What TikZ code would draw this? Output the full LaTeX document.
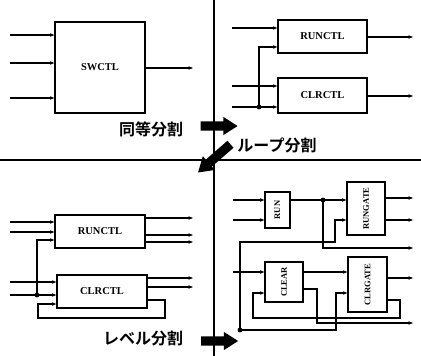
\documentclass[tikz,border=0pt]{standalone}
\usepackage{fontspec}
\usepackage{graphicx}
\newfontfamily\jpfont[BoldFont={Noto Sans CJK JP Bold}]{Noto Sans CJK JP}
\newfontfamily\boxfont{Liberation Serif}
\usetikzlibrary{shapes.arrows,arrows.meta}
\begin{document}
\begin{tikzpicture}[x=1pt,y=-1pt,line width=1.25pt,
  blk/.style={draw,line width=1.3pt,inner sep=0pt,font=\boxfont\bfseries\fontsize{10.5}{10.5}\selectfont},
  vblk/.style={blk,font=\boxfont\bfseries\fontsize{8.5}{8.5}\selectfont},
  wire/.style={-{Stealth[length=4.5pt,width=3.5pt]}},
  dot/.style={circle,fill,inner sep=1.7pt},
  bigarrow/.style={single arrow,fill=black,inner xsep=0pt,inner ysep=4pt,minimum height=37pt,single arrow head extend=4.5pt,single arrow tip angle=65},
  jp/.style={font=\jpfont\bfseries\fontsize{16}{16}\selectfont}]
\useasboundingbox (0,0) rectangle (421,356);
% dividers
\coordinate (vt) at (214,0);
\coordinate (vb) at (214,356);
\coordinate (hl) at (0,160);
\coordinate (hr) at (421,160);
\draw[line width=1.6pt] (vt) -- (vb);
\draw[line width=1.6pt] (hl) -- (hr);
% before
\node[blk,minimum width=90pt,minimum height=91pt] (sw) at (100,67.5) {SWCTL};
\foreach \y [count=\i] in {35,63,98} {
  \coordinate (swi\i) at (10,\y);
  \draw[wire] (swi\i) -- (swi\i -| sw.west);
}
\coordinate (swo) at (193,68);
\draw[wire] (swo -| sw.east) -- (swo);
% same-level split
\node[blk,minimum width=89pt,minimum height=33pt] (ra) at (322.5,36.5) {RUNCTL};
\node[blk,minimum width=89pt,minimum height=35pt] (ca) at (322.5,95.5) {CLRCTL};
\foreach \y [count=\i] in {28,86,107} {\coordinate (ai\i) at (232,\y);}
\draw[wire] (ai1) -- (ai1 -| ra.west);
\draw[wire] (ai2) -- (ai2 -| ca.west);
\draw[wire] (ai3) -- (ai3 -| ca.west);
\node[dot] (ad) at (259,107) {};
\coordinate (ab) at (259,47);
\draw[wire] (ad.center) -- (ab) -- (ab -| ra.west);
\coordinate (ao1) at (413,37);
\coordinate (ao2) at (413,96);
\draw[wire] (ao1 -| ra.east) -- (ao1);
\draw[wire] (ao2 -| ca.east) -- (ao2);
% loop split
\node[blk,minimum width=90pt,minimum height=33pt] (rb) at (100,231.5) {RUNCTL};
\node[blk,minimum width=90pt,minimum height=33pt] (cb) at (102,291.5) {CLRCTL};
\foreach \y [count=\i] in {222,232,282,295} {\coordinate (bi\i) at (10,\y);}
\draw[wire] (bi1) -- (bi1 -| rb.west);
\draw[wire] (bi2) -- (bi2 -| rb.west);
\draw[wire] (bi3) -- (bi3 -| cb.west);
\draw[wire] (bi4) -- (bi4 -| cb.west);
\node[dot] (bd) at (37,295) {};
\coordinate (bb) at (37,240);
\draw[wire] (bd.center) -- (bb) -- (bb -| rb.west);
\foreach \y [count=\i] in {218,235,242} {
  \coordinate (bo\i) at (193,\y);
  \draw[wire] (bo\i -| rb.east) -- (bo\i);
}
\foreach \y [count=\i] in {278,287} {
  \coordinate (bq\i) at (193,\y);
  \draw[wire] (bq\i -| cb.east) -- (bq\i);
}
\coordinate (bl1) at (165,300);
\coordinate (bl2) at (38,318);
\coordinate (bl3) at (38,304);
\draw[wire] (bl1 -| cb.east) -- (bl1) |- (bl2) -- (bl3) -- (bl3 -| cb.west);
% level split
\node[vblk,minimum width=25pt,minimum height=36pt] (run) at (277.5,210) {\rotatebox{90}{RUN}};
\node[vblk,minimum width=38pt,minimum height=53pt] (rg) at (366,208.5) {\rotatebox{90}{RUNGATE}};
\node[vblk,minimum width=38pt,minimum height=40pt] (clr) at (284,282) {\rotatebox{90}{CLEAR}};
\node[vblk,minimum width=39pt,minimum height=55pt] (cg) at (367.5,284.5) {\rotatebox{90}{CLRGATE}};
\coordinate (ri1) at (233,200);
\coordinate (ri2) at (233,220);
\draw[wire] (ri1) -- (ri1 -| run.west);
\draw[wire] (ri2) -- (ri2 -| run.west);
\node[dot] (rd) at (323,200) {};
\draw[wire] (rd -| run.east) -- (rd -| rg.west);
\coordinate (ro1) at (413,198);
\coordinate (ro2) at (413,220);
\coordinate (ro3) at (413,248);
\draw[wire] (ro1 -| rg.east) -- (ro1);
\draw[wire] (ro2 -| rg.east) -- (ro2);
\draw[wire] (rd.center) |- (ro3);
\node[dot] (ld) at (240,330) {};
\coordinate (lk1) at (335,242);
\draw[wire] (ld.center) |- (lk1) -- (lk1 |- ri2) -- (ri2 -| rg.west);
\coordinate (ci1) at (233,272);
\draw[wire] (ci1) -- (ci1 -| clr.west);
\draw[wire] (ci1 -| clr.east) -- (ci1 -| cg.west);
\coordinate (ck) at (317,289);
\coordinate (co) at (413,323);
\draw[wire] (ck -| clr.east) -- (ck) |- (co);
\coordinate (gk1) at (400,300);
\coordinate (gk2) at (253,318);
\coordinate (gk3) at (253,293);
\draw[wire] (gk1 -| cg.east) -- (gk1) |- (gk2) -- (gk3) -- (gk3 -| clr.west);
\coordinate (gk4) at (336,293);
\draw[wire] (ld.center) -| (gk4) -- (gk4 -| cg.west);
\coordinate (go) at (413,278);
\draw[wire] (go -| cg.east) -- (go);
% split labels
\node[jp] (eq) at (151,129) {同等分割};
\node[bigarrow] (eqa) at (215.5,126) {};
\node[jp] (lp) at (277,145) {ループ分割};
\node[bigarrow,minimum height=43pt,rotate=221] (lpa) at (217,156) {};
\node[jp] (lv) at (143,339) {レベル分割};
\node[bigarrow] (lva) at (216,341) {};
\end{tikzpicture}
\end{document}
